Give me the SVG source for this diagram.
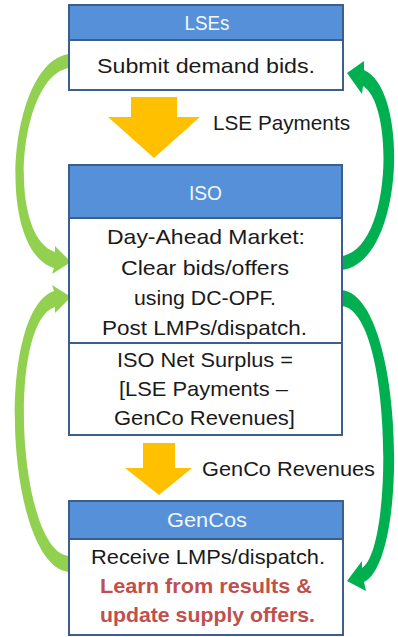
<svg xmlns="http://www.w3.org/2000/svg" width="398" height="637" viewBox="0 0 398 637">
<style>
.hd{fill:#5590d8;stroke:#3b5e8c;stroke-width:2}
.bd{fill:#ffffff;stroke:#3b5e8c;stroke-width:2}
text{font-family:"Liberation Sans",Arial,sans-serif;font-size:21px;fill:#1a1a1a}
.ht{fill:#f4f7ff;text-anchor:middle}
.bt{text-anchor:middle}
.rt{text-anchor:middle;fill:#c0504d;font-weight:bold}
.yel{fill:#ffc000}
.lg{fill:#92d050}
.dg{fill:#00b050}
</style>
<rect width="398" height="637" fill="#ffffff"/>
<g id="connectors">
<polygon class="yel" points="131,97 177,97 177,117 200,117 154,158 108,117 131,117"/>
<text x="213" y="130" textLength="137" lengthAdjust="spacingAndGlyphs">LSE Payments</text>
<polygon class="yel" points="143,443 175,443 175,468 192,468 159,495 125,468 143,468"/>
<text x="202" y="476" textLength="173" lengthAdjust="spacingAndGlyphs">GenCo Revenues</text>
<path class="lg" d="M69,54 C8,62 -6,250 54,268 L52,274 L71,262 L55,246 L55,252 C6,236 18,76 69,68 Z"/>
<path class="lg" d="M69,572 C6,566 -6,312 54,291 L52,285 L71,297 L55,313 L55,307 C6,322 18,552 69,556 Z"/>
<path class="dg" d="M342,270 C404,262 410,90 364,70 L364,61 L347,73 L362,94 L363,86 C394,104 392,248 342,256 Z"/>
<path class="dg" d="M342,290 C404,298 410,560 364,582 L366,591 L347,581 L362,561 L362,568 C394,548 392,312 342,306 Z"/>
</g>
<g id="lses">
<rect class="hd" x="69" y="5" width="274" height="35"/>
<rect class="bd" x="69" y="40" width="274" height="50"/>
<text class="ht" x="207" y="30" textLength="45" lengthAdjust="spacingAndGlyphs">LSEs</text>
<text class="bt" x="206" y="73" textLength="218" lengthAdjust="spacingAndGlyphs">Submit demand bids.</text>
</g>
<g id="iso">
<rect class="hd" x="69" y="165" width="273" height="53"/>
<rect class="bd" x="69" y="218" width="273" height="125"/>
<rect class="bd" x="69" y="343" width="273" height="92"/>
<text class="ht" x="205.5" y="200" textLength="33" lengthAdjust="spacingAndGlyphs">ISO</text>
<text class="bt" x="206" y="244" textLength="198" lengthAdjust="spacingAndGlyphs">Day-Ahead Market:</text>
<text class="bt" x="205" y="275" textLength="168" lengthAdjust="spacingAndGlyphs">Clear bids/offers</text>
<text class="bt" x="205" y="305" textLength="142" lengthAdjust="spacingAndGlyphs">using DC-OPF.</text>
<text class="bt" x="204.5" y="335" textLength="205" lengthAdjust="spacingAndGlyphs">Post LMPs/dispatch.</text>
<text class="bt" x="205" y="367" textLength="176" lengthAdjust="spacingAndGlyphs">ISO Net Surplus =</text>
<text class="bt" x="203.5" y="396" textLength="169" lengthAdjust="spacingAndGlyphs">[LSE Payments –</text>
<text class="bt" x="204.5" y="425" textLength="181" lengthAdjust="spacingAndGlyphs">GenCo Revenues]</text>
</g>
<g id="gencos">
<rect class="hd" x="69" y="501" width="274" height="38"/>
<rect class="bd" x="69" y="539" width="274" height="96"/>
<text class="ht" x="207" y="527" textLength="80" lengthAdjust="spacingAndGlyphs">GenCos</text>
<text class="bt" x="208" y="564" textLength="234" lengthAdjust="spacingAndGlyphs">Receive LMPs/dispatch.</text>
<text class="rt" x="206" y="593" textLength="212" lengthAdjust="spacingAndGlyphs">Learn from results &amp;</text>
<text class="rt" x="207.5" y="622" textLength="215" lengthAdjust="spacingAndGlyphs">update supply offers.</text>
</g>
</svg>
